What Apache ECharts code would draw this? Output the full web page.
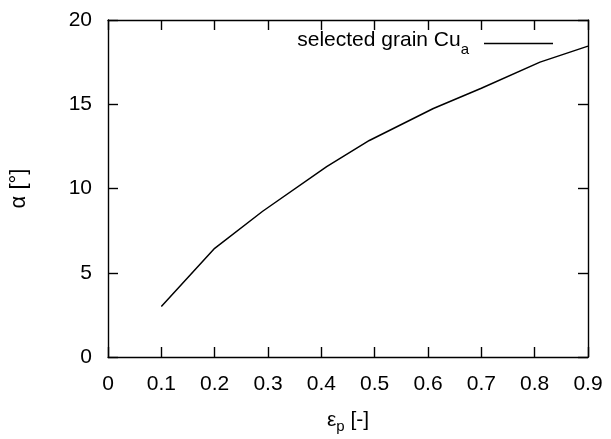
<!DOCTYPE html>
<html>
<head>
<meta charset="utf-8">
<script src="https://cdn.jsdelivr.net/npm/echarts@6/dist/echarts.min.js"></script>
<style>
  html, body { margin: 0; padding: 0; background: #fff; }
  #chart { width: 611px; height: 439px; }
</style>
</head>
<body>
<div id="chart"></div>
<script>
// Misorientation of the selected grain vs. plastic strain
const strain = [0.1, 0.2, 0.29, 0.41, 0.49, 0.61, 0.7, 0.81, 0.9];
const alpha = [3.0, 6.45, 8.65, 11.3, 12.85, 14.75, 15.95, 17.5, 18.45];
const seriesName = 'selected grain Cu_a';
const xTicks = { min: 0, max: 0.9, step: 0.1 };
const yTicks = { min: 0, max: 20, step: 5 };

const FONT = 'Liberation Sans, Arial, Helvetica, sans-serif';
const FS = 21;
const SUB = 15;

const chart = echarts.init(document.getElementById('chart'));

const baseAxis = {
  axisLine: { show: true, onZero: false, lineStyle: { color: '#000', width: 1.4 } },
  axisTick: { show: true, inside: true, length: 10, lineStyle: { color: '#000', width: 1.4 } },
  splitLine: { show: false },
  axisLabel: { color: '#000', fontFamily: FONT, fontSize: FS }
};

chart.setOption({
  animation: false,
  backgroundColor: '#fff',
  grid: { left: 107, right: 23, top: 20, bottom: 80, containLabel: false },
  legend: {
    show: true,
    right: 53,
    top: 25,
    align: 'right',
    itemWidth: 69,
    itemHeight: 1.6,
    data: [{ name: seriesName, icon: 'rect', itemStyle: { color: '#000' } }],
    formatter: () => '{n|selected grain Cu}{s|a}',
    textStyle: {
      color: '#000',
      fontFamily: FONT,
      fontSize: FS,
      rich: {
        n: { fontFamily: FONT, fontSize: FS, color: '#000', padding: [0, 0, 6, 0] },
        s: { fontFamily: FONT, fontSize: SUB, color: '#000', padding: [12, 10, 0, 0] }
      }
    }
  },
  xAxis: [
    Object.assign({}, baseAxis, {
      type: 'value', position: 'bottom',
      min: xTicks.min, max: xTicks.max, interval: xTicks.step,
      axisLabel: Object.assign({}, baseAxis.axisLabel, { margin: 17, formatter: v => (Math.round(v * 10) / 10).toString() }),
      name: '{e|ε}{s|p}{e| [-]}',
      nameLocation: 'middle',
      nameGap: 50,
      nameTextStyle: {
        rich: {
          e: { fontFamily: FONT, fontSize: FS, color: '#000' },
          s: { fontFamily: FONT, fontSize: SUB, color: '#000', padding: [12, 0, 0, 0] }
        }
      }
    }),
    Object.assign({}, baseAxis, {
      type: 'value', position: 'top',
      min: xTicks.min, max: xTicks.max, interval: xTicks.step,
      axisLabel: { show: false }
    })
  ],
  yAxis: [
    Object.assign({}, baseAxis, {
      type: 'value', position: 'left',
      min: yTicks.min, max: yTicks.max, interval: yTicks.step,
      axisLabel: Object.assign({}, baseAxis.axisLabel, { margin: 16 }),
      name: 'α [°]',
      nameLocation: 'middle',
      nameGap: 78,
      nameTextStyle: { fontFamily: FONT, fontSize: 22, color: '#000' }
    }),
    Object.assign({}, baseAxis, {
      type: 'value', position: 'right',
      min: yTicks.min, max: yTicks.max, interval: yTicks.step,
      axisLabel: { show: false }
    })
  ],
  series: [{
    name: seriesName,
    type: 'line',
    data: strain.map((x, i) => [x, alpha[i]]),
    symbol: 'none',
    showSymbol: false,
    lineStyle: { color: '#000', width: 1.5 },
    itemStyle: { color: '#000' }
  }]
});
</script>
</body>
</html>
